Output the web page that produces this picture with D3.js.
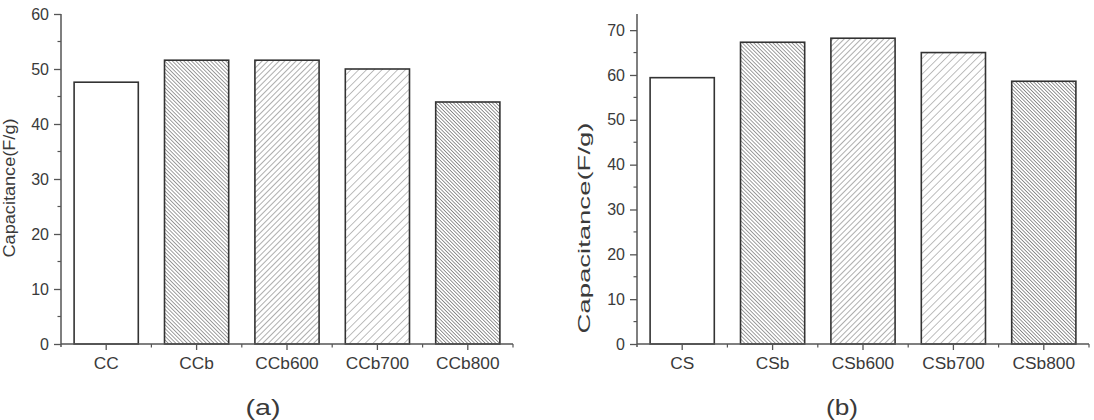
<!DOCTYPE html>
<html><head><meta charset="utf-8">
<script src="https://cdn.jsdelivr.net/npm/d3@7"></script>
<style>
body{margin:0;background:#fff;}
text{font-family:"Liberation Sans",Arial,sans-serif;fill:#3a3a3a;}
</style></head>
<body><svg id="c" width="1094" height="420"></svg>
<script>
const catsA = ["CC","CCb","CCb600","CCb700","CCb800"];
const valsA = [47.6,51.6,51.6,50.0,44.0];
const catsB = ["CS","CSb","CSb600","CSb700","CSb800"];
const valsB = [59.4,67.3,68.2,65.0,58.6];
const ticksA = [0,10,20,30,40,50,60];
const ticksB = [0,10,20,30,40,50,60,70];
const patternIds = ["none","dense","mid","wide","dark"];
const yLabel = "Capacitance(F/g)";
const panelLabels = ["(a)","(b)"];

const svg = d3.select("#c");
const defs = svg.append("defs");
function hatch(id, size, angle, stroke, sw){
  const p = defs.append("pattern").attr("id",id).attr("patternUnits","userSpaceOnUse")
    .attr("width",size).attr("height",size).attr("patternTransform",`rotate(${angle})`);
  p.append("rect").attr("width",size).attr("height",size).attr("fill","#fff");
  p.append("line").attr("x1",0).attr("y1",0).attr("x2",0).attr("y2",size)
    .attr("stroke",stroke).attr("stroke-width",sw);
}
hatch("dense",2.7,-45,"#6a6a6a",1.3);
hatch("mid",4,45,"#777",1.2);
hatch("wide",5.5,45,"#888",1.1);
hatch("dark",2.5,-45,"#5e5e5e",1.3);

function panel(cats, vals, ticks, ymax, x0, x1, opts){
  const g = svg.append("g");
  const yTop = 14, yBot = 344;
  const x = d3.scaleBand().domain(cats).range([x0,x1]).padding(0);
  const y = d3.scaleLinear().domain([0,ymax]).range([yBot,yTop]);
  const bw = x.bandwidth()*0.71;
  g.selectAll("rect.bar").data(cats).enter().append("rect")
    .attr("x",d=>x(d)+x.bandwidth()/2-bw/2)
    .attr("width",bw)
    .attr("y",(d,i)=>y(vals[i]))
    .attr("height",(d,i)=>y(0)-y(vals[i]))
    .attr("fill",(d,i)=>patternIds[i]==="none"?"#fff":`url(#${patternIds[i]})`)
    .attr("stroke","#333").attr("stroke-width",1.6);
  const ya = d3.axisLeft(y).tickValues(ticks).tickSize(7).tickPadding(5);
  const yg = g.append("g").attr("transform",`translate(${x0},0)`).call(ya);
  yg.select(".domain").attr("stroke","#555").attr("stroke-width",1.5).attr("d",`M0,${yTop}V${yBot+3}`);
  yg.selectAll(".tick line").attr("stroke","#555").attr("stroke-width",1.3);
  yg.selectAll(".tick text").attr("font-size",16).attr("fill","#3a3a3a").attr("font-family","Liberation Sans, Arial, sans-serif");
  const minors = d3.range(5, ymax, 10);
  yg.selectAll(".minor").data(minors).enter().append("line")
    .attr("x1",-3.5).attr("x2",0).attr("y1",d=>y(d)).attr("y2",d=>y(d))
    .attr("stroke","#555").attr("stroke-width",1.2);
  const xa = d3.axisBottom(x).tickSize(6).tickPadding(8);
  const xg = g.append("g").attr("transform",`translate(0,${yBot})`).call(xa);
  xg.select(".domain").attr("stroke","#555").attr("stroke-width",1.5).attr("d",`M${x0},0H${x1}`);
  xg.selectAll(".tick line").attr("stroke","#555").attr("stroke-width",1.3);
  xg.selectAll(".tick text").attr("font-size",16).attr("fill","#3a3a3a").attr("font-family","Liberation Sans, Arial, sans-serif")
    .attr("textLength",function(d){return this.getComputedTextLength()*1.08;}).attr("lengthAdjust","spacingAndGlyphs");
  const bounds = cats.slice(1).map(c=>x(c)).concat([x1]);
  xg.selectAll(".minor").data(bounds).enter().append("line")
    .attr("x1",d=>d).attr("x2",d=>d).attr("y1",0).attr("y2",3.5)
    .attr("stroke","#555").attr("stroke-width",1.2);
  g.append("text").attr("transform",`translate(${opts.lx},${opts.ly}) rotate(-90)`)
    .attr("text-anchor","middle").attr("font-size",opts.lfs)
    .attr("textLength",opts.llen).attr("lengthAdjust","spacingAndGlyphs").text(yLabel);
  g.append("text").attr("x",opts.px).attr("y",415).attr("text-anchor","middle")
    .attr("font-size",22).attr("fill","#222").attr("textLength",opts.plen).attr("lengthAdjust","spacingAndGlyphs")
    .text(opts.pl);
}
panel(catsA, valsA, ticksA, 60, 61, 513, {lx:15, ly:188, lfs:16, llen:139, px:263, pl:panelLabels[0], plen:35});
panel(catsB, valsB, ticksB, 73.6, 637, 1089, {lx:590, ly:228, lfs:17, llen:211, px:842, pl:panelLabels[1], plen:32});
</script></body></html>
